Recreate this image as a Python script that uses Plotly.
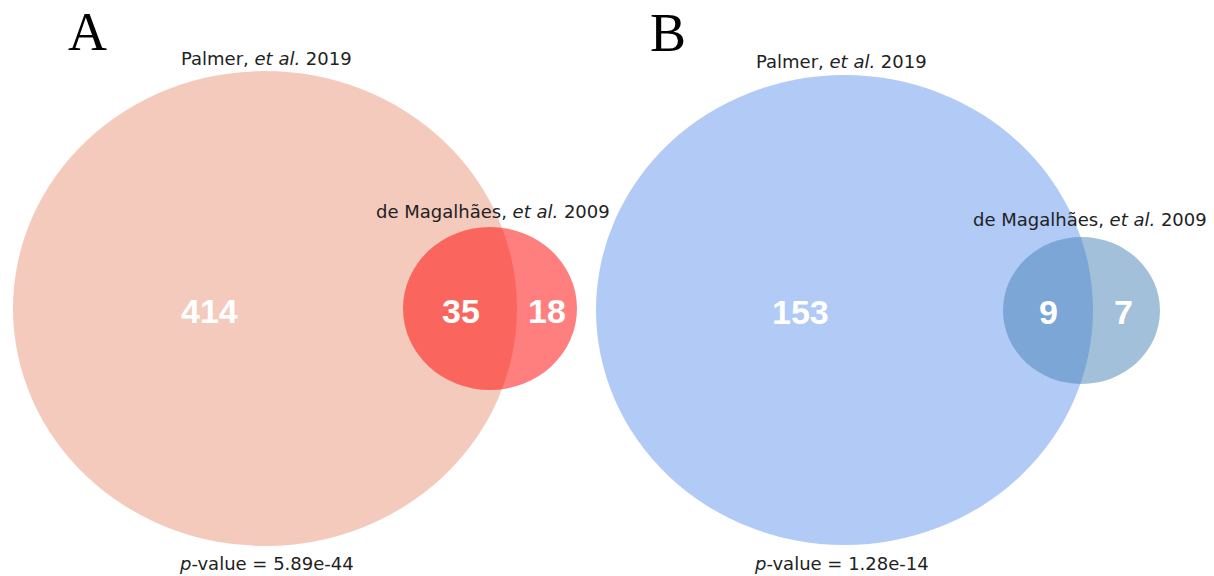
import plotly.graph_objects as go

# ---- data ----
panels = ["A", "B"]
set_big = ["Palmer, <i>et al.</i> 2019", "Palmer, <i>et al.</i> 2019"]
set_small = ["de Magalhães, <i>et al.</i> 2009", "de Magalhães, <i>et al.</i> 2009"]
only_big = [414, 153]
overlap = [35, 9]
only_small = [18, 7]
p_values = ["5.89e-44", "1.28e-14"]

# ---- layout geometry (pixel space of the page, y downward) ----
geom = [
    dict(big=(13, 71, 517, 546), small=(403, 227, 577, 390),
         big_c="rgba(233,150,122,0.5)", small_c="rgba(255,0,0,0.5)",
         letter=(87, 32), big_lab=(266, 58), small_lab=(493, 211), p=(266, 563),
         n_big=(209, 311), n_ov=(461, 311), n_small=(547, 311)),
    dict(big=(596, 75, 1093, 545), small=(1003, 237, 1160, 384),
         big_c="rgba(100,149,237,0.5)", small_c="rgba(70,130,180,0.5)",
         letter=(668, 33), big_lab=(841, 61), small_lab=(1090, 219), p=(841, 563),
         n_big=(800, 312), n_ov=(1048, 312), n_small=(1123, 312)),
]

fig = go.Figure()
shapes = []
annotations = []
label_font = dict(family="DejaVu Sans", size=18, color="#222222")
num_font = dict(family="Liberation Sans, Arial", size=34, color="white")

for i, g in enumerate(geom):
    for key, col in (("big", g["big_c"]), ("small", g["small_c"])):
        x0, y0, x1, y1 = g[key]
        shapes.append(dict(type="circle", xref="x", yref="y", x0=x0, y0=y0, x1=x1, y1=y1,
                           fillcolor=col, line=dict(width=0), layer="below"))
    annotations += [
        dict(x=g["letter"][0], y=g["letter"][1], text=panels[i],
             font=dict(family="Liberation Serif, Times New Roman", size=54, color="black")),
        dict(x=g["big_lab"][0], y=g["big_lab"][1], text=set_big[i], font=label_font),
        dict(x=g["small_lab"][0], y=g["small_lab"][1], text=set_small[i], font=label_font),
        dict(x=g["p"][0], y=g["p"][1], text="<i>p</i>-value = " + p_values[i], font=label_font),
        dict(x=g["n_big"][0], y=g["n_big"][1], text="<b>%d</b>" % only_big[i], font=num_font),
        dict(x=g["n_ov"][0], y=g["n_ov"][1], text="<b>%d</b>" % overlap[i], font=num_font),
        dict(x=g["n_small"][0], y=g["n_small"][1], text="<b>%d</b>" % only_small[i], font=num_font),
    ]

for a in annotations:
    a.update(xref="x", yref="y", showarrow=False, xanchor="center", yanchor="middle")

# the page body has an 8px margin, so the axis ranges are offset to map page pixels
OFF = 8
fig.update_layout(
    width=1214 - OFF, height=576 - OFF,
    margin=dict(l=0, r=0, t=0, b=0),
    paper_bgcolor="white", plot_bgcolor="white",
    xaxis=dict(range=[OFF, 1214], visible=False, fixedrange=True),
    yaxis=dict(range=[576, OFF], visible=False, fixedrange=True),
    shapes=shapes, annotations=annotations, showlegend=False,
)
fig.write_html("out.html")
